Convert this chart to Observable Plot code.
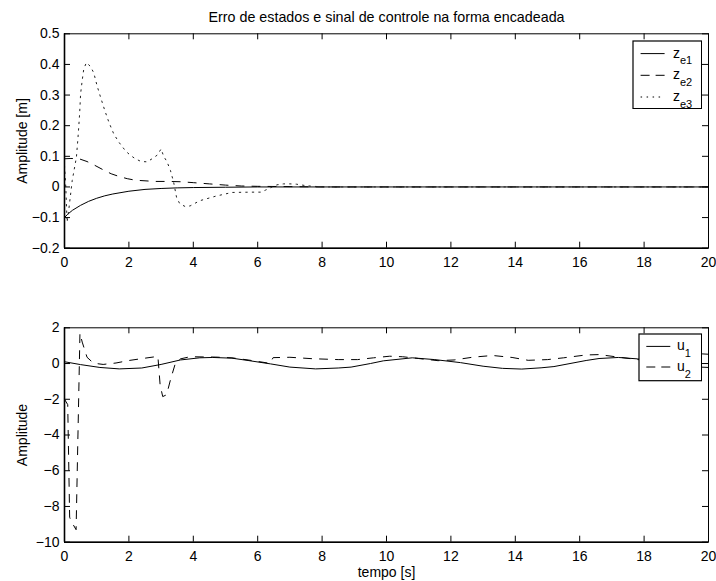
<!DOCTYPE html>
<html>
<head>
<meta charset="utf-8">
<script src="https://cdn.jsdelivr.net/npm/d3@7"></script>
<script src="https://cdn.jsdelivr.net/npm/@observablehq/plot@0.6"></script>
<style>
  body { margin: 0; background: #fff; font-family: "Liberation Sans", Arial, Helvetica, sans-serif; }
  #fig { position: relative; width: 716px; height: 581px; overflow: hidden; background: #fff; }
  #fig > .panel { position: absolute; left: 0; }
  #fig > svg.legend { position: absolute; }
</style>
</head>
<body>
<div id="fig"></div>
<script>
// ---- chained-form state errors (top panel) ----
const tZe1 = [0, 0.1, 0.25, 0.5, 0.75, 1, 1.25, 1.5, 2, 2.5, 3, 3.5, 4, 5, 6, 8, 20];
const ze1  = [-0.1, -0.089, -0.076, -0.06, -0.047, -0.037, -0.029, -0.023, -0.014, -0.008, -0.005, -0.003, -0.002, -0.001, 0, 0, 0];

const tZe2 = [0, 0.2, 0.45, 0.7, 0.95, 1.2, 1.45, 1.7, 1.95, 2.2, 2.5, 2.8, 3.2, 3.6, 4.0, 4.5, 5.0, 5.5, 6.0, 7.0, 8.0, 20];
const ze2  = [0.092, 0.093, 0.092, 0.083, 0.07, 0.056, 0.043, 0.034, 0.027, 0.022, 0.02, 0.018, 0.018, 0.017, 0.014, 0.01, 0.006, 0.003, 0.002, 0.001, 0, 0];

const tZe3 = [0, 0.04, 0.08, 0.13, 0.24, 0.37, 0.42, 0.47, 0.5, 0.55, 0.6, 0.68, 0.81, 0.91, 1.01, 1.12, 1.25, 1.38, 1.53, 1.69, 1.9, 2.05, 2.2, 2.38, 2.57, 2.75, 2.88, 3.0, 3.08, 3.18, 3.29, 3.39, 3.48, 3.58, 3.75, 3.9, 4.2, 4.7, 5.2, 5.8, 6.1, 6.25, 6.45, 6.6, 6.8, 7.0, 7.2, 7.45, 7.7, 8.2, 9, 20];
const ze3  = [0.07, 0.0, -0.115, -0.077, 0.021, 0.097, 0.162, 0.239, 0.304, 0.348, 0.386, 0.406, 0.393, 0.372, 0.331, 0.293, 0.25, 0.211, 0.173, 0.146, 0.117, 0.103, 0.092, 0.083, 0.082, 0.094, 0.104, 0.124, 0.1, 0.083, 0.054, 0.015, -0.034, -0.055, -0.064, -0.062, -0.045, -0.03, -0.018, -0.017, -0.017, -0.01, 0, 0.007, 0.01, 0.01, 0.009, 0.005, 0.002, 0, 0, 0];

// ---- control signals (bottom panel) ----
const tU1 = [0, 0.5, 1.1, 1.7, 2.4, 3.0, 3.6, 4.2, 4.6, 5.2, 5.7, 6.4, 7.0, 7.8, 8.5, 8.9, 9.5, 9.9, 10.8, 11.5, 12.3, 13.0, 13.6, 14.2, 14.8, 15.2, 16.2, 16.6, 17.2, 17.8, 18.5, 19.0, 19.5, 20];
const u1  = [0.1, -0.06, -0.22, -0.3, -0.25, -0.05, 0.2, 0.32, 0.34, 0.3, 0.17, -0.02, -0.2, -0.3, -0.25, -0.2, 0.0, 0.15, 0.32, 0.22, 0.05, -0.15, -0.27, -0.31, -0.24, -0.17, 0.17, 0.28, 0.34, 0.26, 0.05, -0.08, -0.18, -0.22];

const tU2 = [0, 0.1, 0.16, 0.2, 0.36, 0.48, 0.55, 0.7, 0.9, 1.2, 1.6, 2.0, 2.5, 2.9, 2.97, 3.05, 3.17, 3.3, 3.45, 3.6, 3.9, 4.3, 4.7, 5.2, 5.7, 6.1, 6.38, 6.48, 7.0, 7.7, 8.5, 9.1, 9.6, 10.1, 10.5, 11.0, 11.6, 12.1, 12.7, 13.3, 13.9, 14.4, 15.0, 15.5, 16.2, 16.6, 17.2, 17.8, 18.2, 18.8, 19.3, 19.8, 20];
const u2  = [-2.0, -2.3, -8.6, -8.8, -9.3, 1.7, 1.2, 0.35, 0.02, -0.05, 0.03, 0.17, 0.3, 0.4, -1.2, -1.85, -1.75, -0.85, 0.05, 0.26, 0.38, 0.37, 0.36, 0.32, 0.2, 0.09, 0.01, 0.33, 0.35, 0.27, 0.22, 0.22, 0.32, 0.41, 0.38, 0.28, 0.16, 0.2, 0.36, 0.45, 0.34, 0.18, 0.22, 0.32, 0.48, 0.5, 0.36, 0.22, 0.17, 0.25, 0.42, 0.54, 0.52];

// ---- axes ----
const xTicks = [0, 2, 4, 6, 8, 10, 12, 14, 16, 18, 20];
const yTicksTop = [-0.2, -0.1, 0, 0.1, 0.2, 0.3, 0.4, 0.5];
const yTicksBottom = [-10, -8, -6, -4, -2, 0, 2];

const titleText = "Erro de estados e sinal de controle na forma encadeada";
const yLabelTop = "Amplitude [m]";
const yLabelBottom = "Amplitude";
const xLabelBottom = "tempo [s]";

const FONT = "Liberation Sans, Arial, Helvetica, sans-serif";
const W = 716, ML = 64, MR = 8;
const innerW = W - ML - MR;
const TICK = 6;

const rows = (t, v) => t.map((x, i) => ({t: x, v: v[i]}));
const fmt = d => d < 0 ? "\u2212" + String(Math.abs(d)) : String(d);

const SOLID = {stroke: "#000", strokeWidth: 1};
const DASHED = {stroke: "#000", strokeWidth: 1, strokeDasharray: "8,8"};
const DOTTED = {stroke: "#222", strokeWidth: 1, strokeDasharray: "1.5,5"};

const centered = {textAnchor: "middle", lineAnchor: "middle", fill: "#000"};

function panel({height, mt, mb, yDomain, yTicks, series, ylabel, xlabel, title}) {
  const innerH = height - mt - mb;
  const marks = [
    ...series.map(s => Plot.line(rows(s.t, s.v), {x: "t", y: "v", ...s.style})),
    Plot.frame({stroke: "#000", strokeWidth: 1}),
    Plot.ruleY([yDomain[0]], {stroke: "#000", strokeWidth: 1.6}),
    Plot.ruleX([0], {stroke: "#000", strokeWidth: 1.6}),
    // inward tick marks on all four sides
    Plot.tickX(xTicks, {x: d => d, insetTop: innerH - TICK, stroke: "#000"}),
    Plot.tickX(xTicks, {x: d => d, insetBottom: innerH - TICK, stroke: "#000"}),
    Plot.tickY(yTicks, {y: d => d, insetRight: innerW - TICK, stroke: "#000"}),
    Plot.tickY(yTicks, {y: d => d, insetLeft: innerW - TICK, stroke: "#000"}),
    Plot.axisX({ticks: xTicks, tickSize: 0, tickPadding: 9, tickFormat: fmt, label: null, fontSize: 14, fill: "#000"}),
    Plot.axisY({ticks: yTicks, tickSize: 0, tickPadding: 5, tickFormat: fmt, label: null, fontSize: 14, fill: "#000"}),
    Plot.text([ylabel], {frameAnchor: "left", dx: -42.3, rotate: -90, text: d => d, fontSize: 14, ...centered})
  ];
  if (title) marks.push(Plot.text([title], {frameAnchor: "top", dy: -16.8, text: d => d, fontSize: 14.3, ...centered}));
  if (xlabel) marks.push(Plot.text([xlabel], {frameAnchor: "bottom", dy: 30.8, text: d => d, fontSize: 14, ...centered}));
  return Plot.plot({
    width: W, height,
    marginLeft: ML, marginRight: MR, marginTop: mt, marginBottom: mb,
    style: {fontFamily: FONT, fontSize: "14px", color: "#000", background: "transparent"},
    x: {domain: [0, 20]},
    y: {domain: yDomain},
    marks
  });
}

const fig = document.getElementById("fig");

const topPanel = panel({
  height: 290, mt: 33.3, mb: 42.3,
  yDomain: [-0.2, 0.5], yTicks: yTicksTop,
  series: [
    {t: tZe1, v: ze1, style: SOLID},
    {t: tZe2, v: ze2, style: DASHED},
    {t: tZe3, v: ze3, style: DOTTED}
  ],
  ylabel: yLabelTop, title: titleText
});
topPanel.classList.add("panel");
topPanel.style.top = "0px";
fig.appendChild(topPanel);

const bottomPanel = panel({
  height: 291, mt: 37.3, mb: 39.3,
  yDomain: [-10, 2], yTicks: yTicksBottom,
  series: [
    {t: tU1, v: u1, style: SOLID},
    {t: tU2, v: u2, style: DASHED}
  ],
  ylabel: yLabelBottom, xlabel: xLabelBottom
});
bottomPanel.classList.add("panel");
bottomPanel.style.top = "290px";
fig.appendChild(bottomPanel);

// ---- legends (boxed, upper right of each panel) ----
function legend({left, top, width, height, lineX0, textX, entries}) {
  const svg = d3.select(fig).append("svg")
    .attr("class", "legend")
    .attr("width", width + 2).attr("height", height + 2)
    .style("left", (left - 1) + "px").style("top", (top - 1) + "px");
  svg.append("rect").attr("x", 1).attr("y", 1).attr("width", width).attr("height", height)
    .attr("fill", "#fff").attr("stroke", "#000").attr("stroke-width", 1.2);
  for (const e of entries) {
    svg.append("line")
      .attr("x1", 1 + lineX0).attr("x2", 1 + lineX0 + 24)
      .attr("y1", 1 + e.y).attr("y2", 1 + e.y)
      .attr("stroke", "#000").attr("stroke-width", 1)
      .attr("stroke-dasharray", e.dash);
    const txt = svg.append("text")
      .attr("x", 1 + textX).attr("y", 1 + e.y + 4)
      .attr("font-family", FONT).attr("font-size", 14).attr("fill", "#000");
    txt.append("tspan").text(e.main);
    txt.append("tspan").attr("dy", 6.7).attr("font-size", 11).text(e.sub);
  }
}

legend({
  left: 632.7, top: 40.7, width: 68.6, height: 67.6, lineX0: 7.6, textX: 40,
  entries: [
    {y: 12.6, dash: null, main: "z", sub: "e1"},
    {y: 34.3, dash: "9,6", main: "z", sub: "e2"},
    {y: 56.0, dash: "1.5,4.5", main: "z", sub: "e3"}
  ]
});

legend({
  left: 638.7, top: 334.3, width: 62.6, height: 46.7, lineX0: 7.3, textX: 38,
  entries: [
    {y: 12.4, dash: null, main: "u", sub: "1"},
    {y: 33.0, dash: "9,6", main: "u", sub: "2"}
  ]
});
</script>
</body>
</html>
